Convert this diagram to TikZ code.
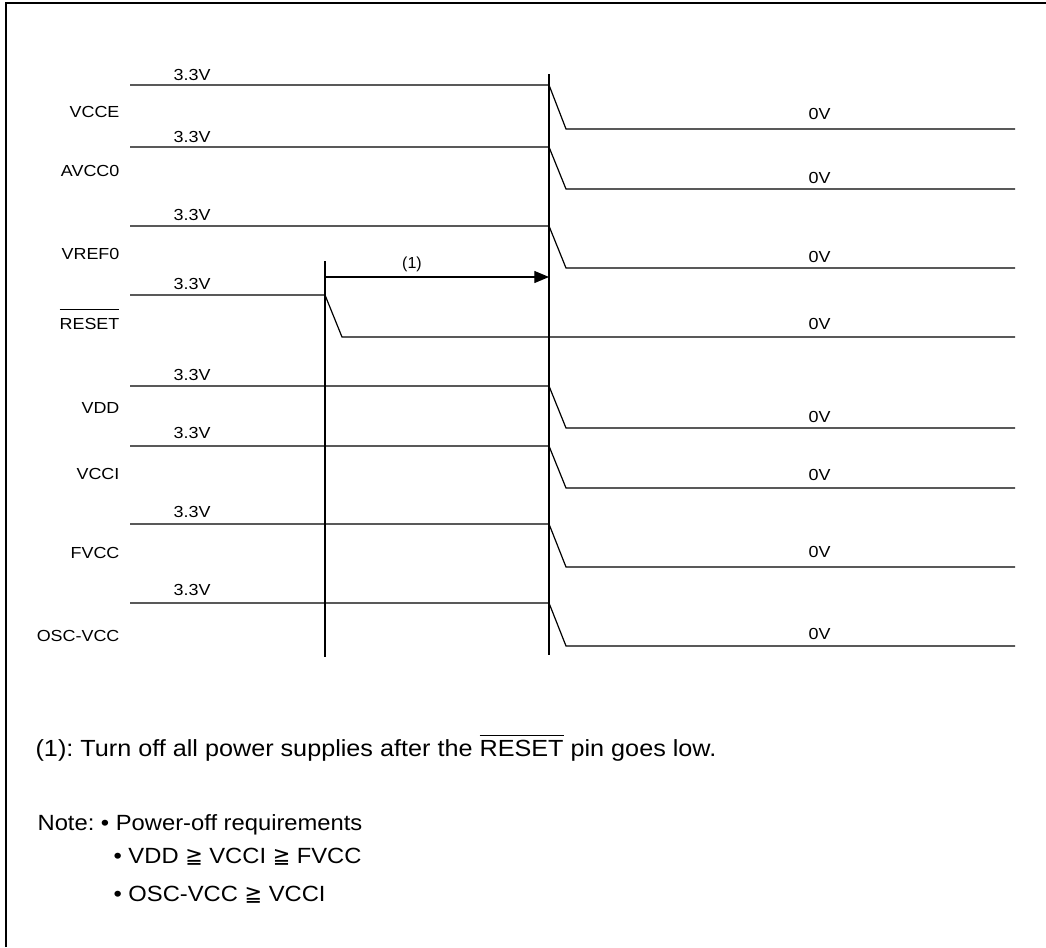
\documentclass[tikz,border=0pt]{standalone}
\usepackage{fontspec}
\setmainfont{Liberation Sans}
\newfontfamily\sigfont[FakeStretch=1.12]{Liberation Sans}
\newfontfamily\notefont[FakeStretch=1.08]{Liberation Sans}
\newfontfamily\symfont[FakeStretch=0.95]{DejaVu Sans}
\usetikzlibrary{arrows.meta}
\frenchspacing
% overbarred signal name: #1 gap, #2 text
\newcommand\barsig[2]{\vbox{\hrule height 0.7pt\kern #1\hbox{#2}}}

\begin{document}
\begin{tikzpicture}[x=0.75pt, y=-0.75pt, line width=0.9pt,
	sig/.style={anchor=base east, inner sep=0pt, font=\sigfont\fontsize{12}{14}\selectfont},
	lvl/.style={anchor=base west, inner sep=0pt, font=\sigfont\fontsize{12}{14}\selectfont},
	note/.style={anchor=base west, inner sep=0pt, font=\notefont\fontsize{16.5}{19}\selectfont}]
	\useasboundingbox (0,0) rectangle (1046,947);
	\draw (6,947) -- (6,3) -- (1046,3);
	% timing markers
	\coordinate (rst-top) at (325,261);
	\coordinate (rst-bot) at (325,657);
	\coordinate (off-top) at (549,74);
	\coordinate (off-bot) at (549,655);
	\draw (rst-top) -- (rst-bot);
	\draw (off-top) -- (off-bot);
	% name / label / label y / high y / low y / 3.3V y / 0V y / fall x
	\foreach \name/\lab/\ly/\hy/\lo/\vy/\zy/\fx in {
		vcce/VCCE/117/85/129/80/119/549,
		avcc/AVCC0/176/147/189/142/183/549,
		vref/VREF0/259/226/268/220/262/549,
		rst/{\barsig{6pt}{RESET}}/329/295/337/289/329/325,
		vdd/VDD/413/386/428/380/422/549,
		vcci/VCCI/479/446/488/438/480/549,
		fvcc/FVCC/558/524/567/517/557/549,
		osc/OSC-VCC/641/603/646/595/639/549}{
		\node[sig] (\name) at (120,\ly) {\lab};
		\node[lvl] (\name-hi) at (173,\vy) {3.3V};
		\node[lvl] (\name-lo) at (808,\zy) {0V};
		\draw (130,\hy) -- (\fx,\hy) -- (\fx+17,\lo) -- (1015,\lo);
	}
	% delay (1)
	\coordinate (dly-a) at (325,277);
	\coordinate (dly-b) at (549,277);
	\draw[-{Triangle[length=11pt, width=9pt]}] (dly-a) -- (dly-b);
	\node[anchor=base, inner sep=0pt, font=\fontsize{12}{14}\selectfont] (dly) at (412,268) {(1)};
	% notes
	\node[note, font=\notefont\fontsize{17.5}{20}\selectfont] (fn) at (35,756) {(1): Turn off all power supplies after the \barsig{2.5pt}{RESET} pin goes low.};
	\node[note] (nt) at (37,830) {Note: • Power-off requirements};
	\node[note] (req1) at (113,863) {• VDD {\symfont ≧} VCCI {\symfont ≧} FVCC};
	\node[note] (req2) at (113,901) {• OSC-VCC {\symfont ≧} VCCI};
\end{tikzpicture}
\end{document}
